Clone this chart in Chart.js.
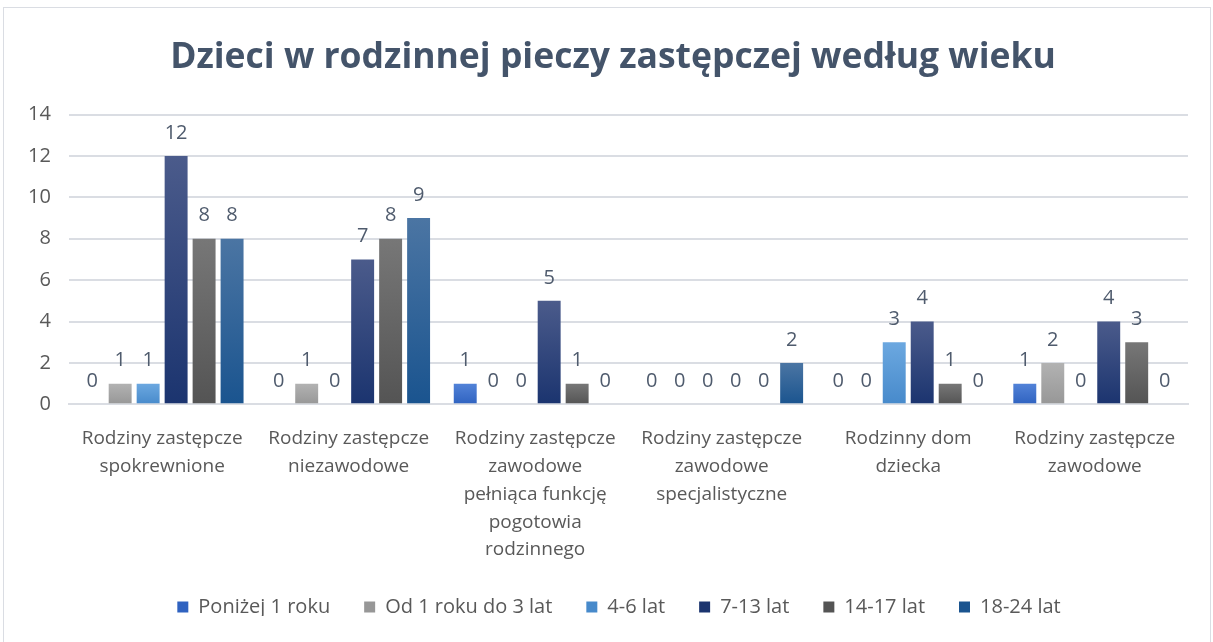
<!DOCTYPE html>
<html>
<head>
<meta charset="utf-8">
<script src="https://cdn.jsdelivr.net/npm/chart.js@4"></script>
<style>
  html, body { margin: 0; padding: 0; background: #fff; }
  #ramka { position: absolute; left: 3px; top: 7px; width: 1206px; height: 640px; border: 1px solid #dadde3; pointer-events: none; }
  #wrap { position: absolute; left: 0; top: 0; width: 1213px; height: 642px; }
</style>
</head>
<body>
<div id="wrap"><canvas id="myChart"></canvas></div>
<div id="ramka"></div>
<script>
// Kategorie (osie X, zawijane w kilku liniach)
const kategorie = [
  ['Rodziny zastępcze', 'spokrewnione'],
  ['Rodziny zastępcze', 'niezawodowe'],
  ['Rodziny zastępcze', 'zawodowe', 'pełniąca funkcję', 'pogotowia', 'rodzinnego'],
  ['Rodziny zastępcze', 'zawodowe', 'specjalistyczne'],
  ['Rodzinny dom', 'dziecka'],
  ['Rodziny zastępcze', 'zawodowe']
];

// Serie wg wieku
const ponizej1 = [0, 0, 1, 0, 0, 1];
const od1do3 = [1, 1, 0, 0, 0, 2];
const lat4_6 = [1, 0, 0, 0, 3, 0];
const lat7_13 = [12, 7, 5, 0, 4, 4];
const lat14_17 = [8, 8, 1, 0, 1, 3];
const lat18_24 = [8, 9, 0, 2, 0, 0];

const tickiY = [0, 2, 4, 6, 8, 10, 12, 14];

// Gradient pionowy dla każdego słupka (góra jaśniejsza)
function gradient(gora, dol) {
  return (context) => {
    const chart = context.chart;
    if (context.type !== 'data' || !chart.chartArea) return dol;
    const y = chart.scales.y.getPixelForValue(context.raw);
    const base = chart.scales.y.getPixelForValue(0);
    if (!(base > y)) return dol;
    const g = chart.ctx.createLinearGradient(0, y, 0, base);
    g.addColorStop(0, gora);
    g.addColorStop(1, dol);
    return g;
  };
}

// Etykiety wartości nad słupkami
const etykiety = {
  id: 'etykiety',
  afterDatasetsDraw(chart) {
    const ctx = chart.ctx;
    ctx.save();
    ctx.font = '20px "Open Sans"';
    ctx.fillStyle = '#4f5b6d';
    ctx.textAlign = 'center';
    ctx.textBaseline = 'middle';
    chart.data.datasets.forEach((ds, i) => {
      const meta = chart.getDatasetMeta(i);
      meta.data.forEach((el, j) => {
        ctx.fillText(String(ds.data[j]), el.x, el.y - 23);
      });
    });
    ctx.restore();
  }
};

// Legenda ciaśniej w pionie, tytuł i legenda lekko w prawo
const przesuniecia = {
  id: 'przesuniecia',
  beforeLayout(chart) {
    const lg = chart.legend;
    if (lg && !lg._ciasna) {
      const fit = lg.fit.bind(lg);
      lg.fit = function () { fit(); this.height -= 11; };
      lg._ciasna = true;
    }
  },
  afterLayout(chart) {
    const lg = chart.legend;
    if (lg) { lg.top -= 13; lg.bottom -= 13; lg.left += 20; lg.right += 20; }
    const tb = chart.titleBlock;
    if (tb) { tb.left += 14; tb.right += 14; }
  }
};

const ctx = document.getElementById('myChart');

new Chart(ctx, {
  type: 'bar',
  data: {
    labels: kategorie,
    datasets: [
      { label: 'Poniżej 1 roku', data: ponizej1, backgroundColor: gradient('#5283d8', '#2f62c0') },
      { label: 'Od 1 roku do 3 lat', data: od1do3, backgroundColor: gradient('#b2b2b2', '#979797') },
      { label: '4-6 lat', data: lat4_6, backgroundColor: gradient('#6ca8e0', '#478acb') },
      { label: '7-13 lat', data: lat7_13, backgroundColor: gradient('#4b5b8b', '#1b346f') },
      { label: '14-17 lat', data: lat14_17, backgroundColor: gradient('#777777', '#545454') },
      { label: '18-24 lat', data: lat18_24, backgroundColor: gradient('#4b75a3', '#1a548f') }
    ]
  },
  options: {
    responsive: true,
    maintainAspectRatio: false,
    animation: false,
    layout: { padding: { left: 10, right: 25, top: 22, bottom: 13 } },
    datasets: {
      bar: { categoryPercentage: 0.9, barPercentage: 0.82 }
    },
    plugins: {
      title: {
        display: true,
        text: 'Dzieci w rodzinnej pieczy zastępczej według wieku',
        color: '#44546a',
        font: { family: '"Open Sans"', size: 35.5, weight: 'bold' },
        padding: { top: 15, bottom: 35 }
      },
      legend: {
        position: 'bottom',
        labels: {
          color: '#595959',
          font: { family: '"Open Sans"', size: 20 },
          boxWidth: 11,
          boxHeight: 11,
          padding: 34
        }
      },
      tooltip: { enabled: false }
    },
    scales: {
      x: {
        grid: { display: false },
        border: { color: '#dadde3', width: 2 },
        ticks: {
          color: '#595959',
          font: { family: '"Open Sans"', size: 19, lineHeight: 1.47 },
          maxRotation: 0,
          autoSkip: false,
          padding: 12
        }
      },
      y: {
        min: 0,
        max: 14,
        afterBuildTicks: (axis) => { axis.ticks = tickiY.map(v => ({ value: v })); },
        grid: { color: '#dadde3', lineWidth: 2, drawTicks: false },
        border: { display: false },
        ticks: {
          color: '#595959',
          font: { family: '"Open Sans"', size: 20 },
          padding: 18
        }
      }
    }
  },
  plugins: [etykiety, przesuniecia]
});
</script>
</body>
</html>
